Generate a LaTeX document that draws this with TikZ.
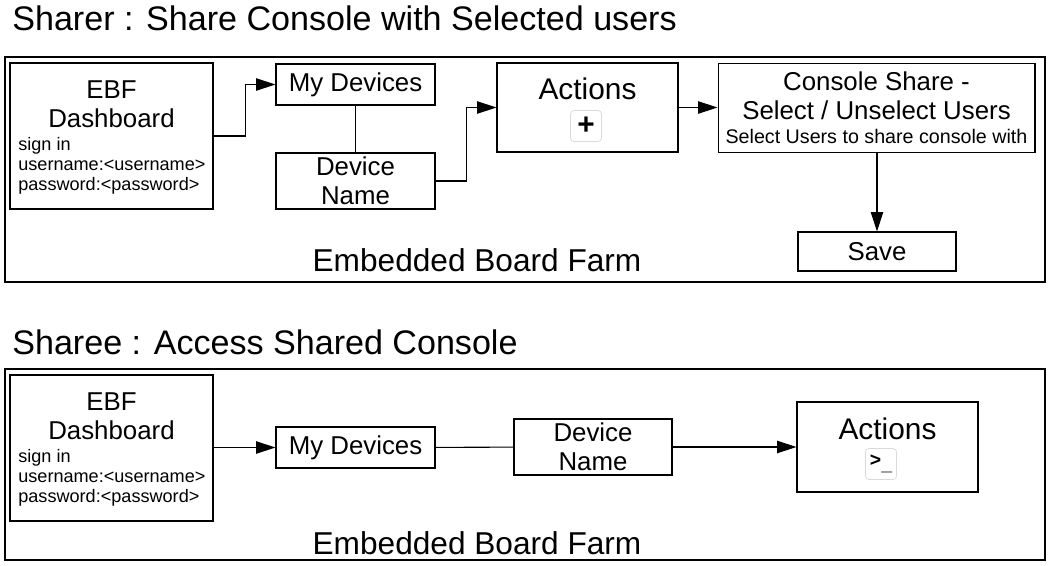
\documentclass[tikz,border=0pt]{standalone}
\usepackage{fontspec}
\setmainfont{Liberation Sans}
\usetikzlibrary{arrows.meta, calc, positioning}

\begin{document}
\begin{tikzpicture}[x=0.02cm, y=-0.02cm,
	box/.style={draw, semithick, inner sep=0pt, align=center, font=\fontsize{14.7}{16.5}\selectfont},
	icon/.style={draw=black!15, rounded corners=2pt, minimum size=0.62cm, inner sep=0pt},
	small/.style={font=\fontsize{10.3}{11.5}\selectfont, align=left, inner sep=0pt},
	farm/.style={font=\fontsize{18}{20}\selectfont, inner sep=0pt},
	conn/.style={semithick, -{Triangle[length=11pt, width=7pt]}}]
	\useasboundingbox (0,0) rectangle (1052,565);
	
	% Sharer
	\node[anchor=west, farm, font=\fontsize{19.4}{21}\selectfont] (t1) at (12,18) {Sharer : Share Console with Selected users};
	\draw[semithick] (5,57) rectangle (1045,282);
	\node[box, minimum width=4.06cm, minimum height=2.92cm] (ebf1) at (111.5,136) {};
	\node[box, anchor=north, draw=none] (ebft1) at (111.5,80) {EBF\\Dashboard};
	\node[small, anchor=north west] (sign1) at (18,137) {sign in\\username:<username>\\password:<password>};
	\node[box, minimum width=3.18cm, minimum height=0.82cm] (dev1) at (355.5,84.5) {My Devices};
	\node[box, minimum width=3.18cm, minimum height=1.12cm] (name1) at (355.5,181) {Device\\Name};
	\node[box, minimum width=3.62cm, minimum height=1.78cm] (act1) at (587.5,107.5) {};
	\node[box, draw=none, anchor=north] (actt1) at (587.5,77) {\fontsize{17}{19}\selectfont Actions};
	\node[icon] (plus) at (586,126) {\fontsize{17}{17}\selectfont\bfseries +};
	\node[box, minimum width=6.34cm, minimum height=1.78cm, anchor=north] (cons) at (876.5,63) {Console Share -\\Select / Unselect Users\\[-3pt]{\fontsize{11.2}{13}\selectfont Select Users to share console with}};
	\node[box, minimum width=3.16cm, minimum height=0.78cm] (save) at (877,251.5) {Save};
	\node[farm] (farm1) at (477,260) {Embedded Board Farm};
	
	\draw[conn] (ebf1.east) -- ++(32,0) |- (dev1.west);
	\draw[semithick] (dev1) -- (name1);
	\draw[conn] (name1.east) -- ++(31,0) |- (act1.west);
	\draw[conn] (act1) -- (act1 -| cons.west);
	\draw[conn] (cons.south -| save) -- (save.north);
	
	% Sharee
	\node[anchor=west, farm, font=\fontsize{19.4}{21}\selectfont] (t2) at (12,342) {Sharee : Access Shared Console};
	\draw[semithick] (5,369) rectangle (1045,560);
	\node[box, minimum width=4.06cm, minimum height=2.92cm] (ebf2) at (111.5,448) {};
	\node[box, anchor=north, draw=none] (ebft2) at (111.5,392) {EBF\\Dashboard};
	\node[small, anchor=north west] (sign2) at (18,449) {sign in\\username:<username>\\password:<password>};
	\node[box, minimum width=3.18cm, minimum height=0.82cm] (dev2) at (355.5,447.5) {My Devices};
	\node[box, minimum width=3.16cm, minimum height=1.12cm] (name2) at (593,447) {Device\\Name};
	\node[box, minimum width=3.62cm, minimum height=1.8cm] (act2) at (887.5,447) {};
	\node[box, draw=none, anchor=north] (actt2) at (887.5,417) {\fontsize{17}{19}\selectfont Actions};
	\node[icon] (term) at (881,464) {\fontsize{11}{11}\selectfont\bfseries >\raisebox{-2pt}{\_}};
	\node[farm] (farm2) at (477,543) {Embedded Board Farm};
	
	\draw[conn] (ebf2.east |- dev2) -- (dev2.west);
	\draw[semithick] (dev2) -- (name2);
	\draw[conn] (name2.east) -- (name2.east -| act2.west);
\end{tikzpicture}
\end{document}
